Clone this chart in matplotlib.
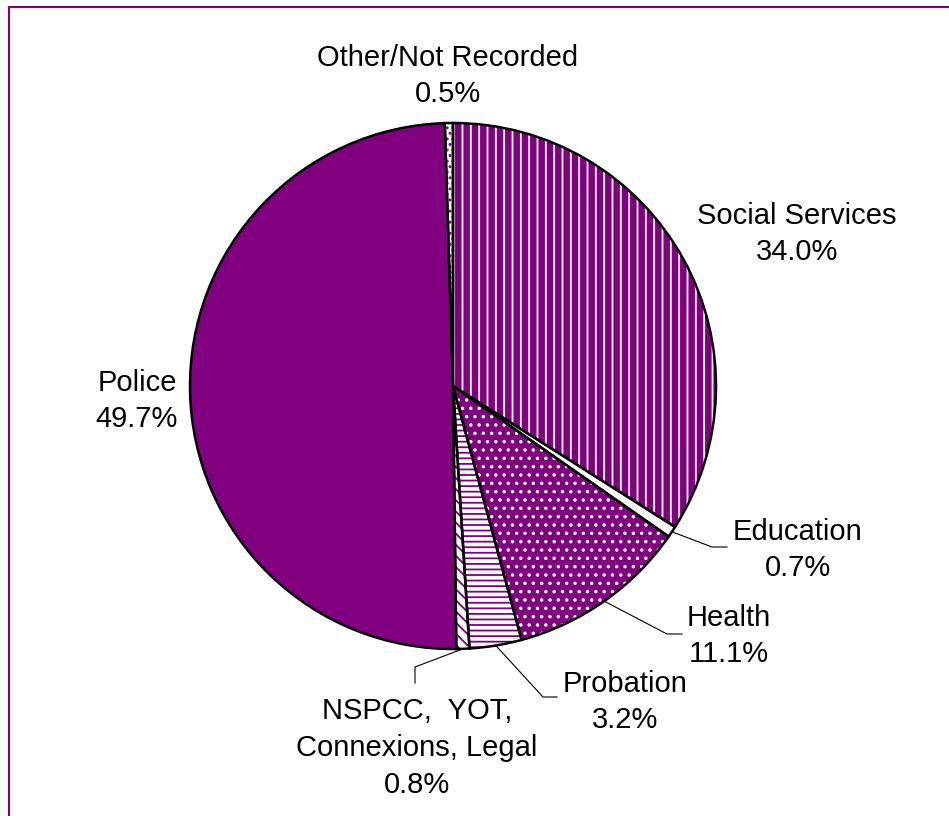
import matplotlib.pyplot as plt
import numpy as np

plt.rcParams['font.family'] = ['Liberation Sans', 'DejaVu Sans']
plt.rcParams['hatch.linewidth'] = 1.3

# Referral sources, clockwise from 12 o'clock
sources = ['Social Services', 'Education', 'Health', 'Probation',
           'NSPCC,  YOT,\nConnexions, Legal', 'Police', 'Other/Not Recorded']
shares = [34.0, 0.7, 11.1, 3.2, 0.8, 49.7, 0.5]

PURPLE = '#800080'
faces = [PURPLE, 'white', PURPLE, 'white', 'white', PURPLE, 'white']
hatch_cols = ['white', 'white', 'white', PURPLE, PURPLE, PURPLE, PURPLE]
hatches = ['||', None, '..', '---', '\\\\\\', None, '...']

W, H = 949, 816
fig = plt.figure(figsize=(W / 100, H / 100), dpi=100)
ax = fig.add_axes([0, 0, 1, 1])

cx, cy, R = 453, 386, 263

# y axis runs downward, so data-CCW shows up clockwise on screen
fill, _ = ax.pie(shares, center=(cx, cy), radius=R, startangle=-90,
                 counterclock=True, frame=True,
                 wedgeprops=dict(linewidth=0))
for w, fc, hc, h in zip(fill, faces, hatch_cols, hatches):
    w.set_facecolor(fc)
    w.set_edgecolor(hc)
    if h:
        w.set_hatch(h)

outline, _ = ax.pie(shares, center=(cx, cy), radius=R, startangle=-90,
                    counterclock=True, frame=True,
                    wedgeprops=dict(facecolor='none', edgecolor='black',
                                    linewidth=1.8))

ax.set_xlim(0, W)
ax.set_ylim(H, 0)
ax.set_aspect('equal')
ax.axis('off')

# label centres and leader elbows (None = label sits next to its slice)
label_pos = [(797, 234), (798, 550), (729, 636), (625, 702),
             (417, 748), (137, 401), (448, 76)]
elbows = [None, [(712, 547), (727, 547)], [(667, 634), (682, 634)],
          [(543, 697), (557, 697)], [(415, 667), (415, 683)], None, None]

for w, name, val, (tx, ty), elb in zip(outline, sources, shares,
                                       label_pos, elbows):
    ax.text(tx, ty, f'{name}\n{val:.1f}%', ha='center', va='center',
            fontsize=21, linespacing=1.4)
    if elb:
        ang = np.deg2rad((w.theta1 + w.theta2) / 2)
        sx, sy = cx + R * np.cos(ang), cy + R * np.sin(ang)
        xs = [sx] + [p[0] for p in elb]
        ys = [sy] + [p[1] for p in elb]
        ax.plot(xs, ys, color='black', lw=0.8)

# frame lines along the top and left edges
ax.plot([9, W], [7, 7], color=PURPLE, lw=1.5, solid_capstyle='butt')
ax.plot([9.5, 9.5], [6, H], color=PURPLE, lw=1.5, solid_capstyle='butt')

fig.savefig('out.png', dpi=100)
